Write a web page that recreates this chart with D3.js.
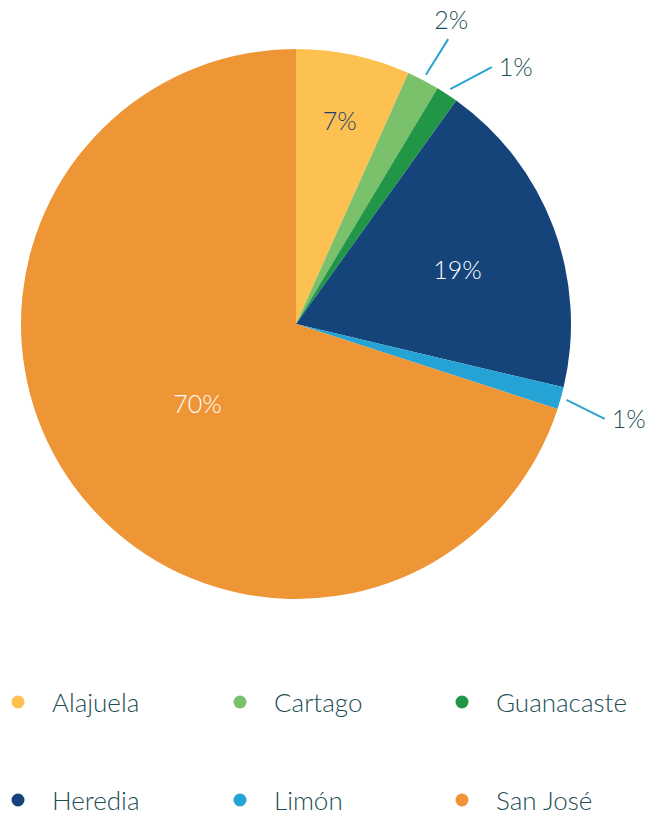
<!DOCTYPE html>
<html>
<head>
<meta charset="utf-8">
<script src="https://cdn.jsdelivr.net/npm/d3@7"></script>
<style>
  body { margin: 0; background: #fff; }
  text { font-family: Lato, "Open Sans", sans-serif; font-weight: 300; }
</style>
</head>
<body>
<svg id="chart" width="651" height="813"></svg>
<script>
// provinces and their share (%)
const provinces = ["Alajuela", "Cartago", "Guanacaste", "Heredia", "Limón", "San José"];
const shares = [6.7, 1.9, 1.3, 18.8, 1.3, 70.0];
const labels = ["7%", "2%", "1%", "19%", "1%", "70%"];
const colors = ["#fdc151", "#7bc16b", "#229647", "#144479", "#26a3d5", "#ee9535"];

const width = 651, height = 813;
const cx = 296, cy = 324, radius = 275;
const textColor = "#1e4d55";

const svg = d3.select("#chart");
const g = svg.append("g").attr("transform", `translate(${cx}, ${cy})`);

const data = provinces.map((p, i) => ({ name: p, value: shares[i], label: labels[i], color: colors[i] }));

const pie = d3.pie().sort(null).value(d => d.value);
const arcs = pie(data);
const arc = d3.arc().innerRadius(0).outerRadius(radius);

g.selectAll("path.slice")
  .data(arcs)
  .join("path")
  .attr("class", "slice")
  .attr("d", arc)
  .attr("fill", d => d.data.color);

// label placement: inside ones use a radius fraction, small slices get a leader line
const insideR = { "Alajuela": 0.76, "Heredia": 0.62, "San José": 0.46 };
const insideTurn = { "Alajuela": 0, "Heredia": 0.03, "San José": -0.05 };
const insideFill = { "Alajuela": "#1f3f6e", "Heredia": "#fff", "San José": "#fff" };
const leaderNudge = { "Cartago": 0.01, "Guanacaste": 0.07, "Limón": 0.025 };

const polar = (a, r) => [Math.sin(a) * r, -Math.cos(a) * r];

arcs.forEach(d => {
  const mid = (d.startAngle + d.endAngle) / 2;
  const name = d.data.name;
  if (insideR[name] !== undefined) {
    const [x, y] = polar(mid + insideTurn[name], radius * insideR[name]);
    g.append("text")
      .attr("x", x).attr("y", y)
      .attr("text-anchor", "middle")
      .attr("dominant-baseline", "central")
      .attr("font-size", 25)
      .attr("fill", insideFill[name])
      .text(d.data.label);
  } else {
    const a2 = mid + leaderNudge[name];
    const [x1, y1] = polar(mid, radius + 6);
    const [x2, y2] = polar(a2, radius + 48);
    g.append("line")
      .attr("x1", x1).attr("y1", y1)
      .attr("x2", x2).attr("y2", y2)
      .attr("stroke", "#2aa3d4")
      .attr("stroke-width", 2);
    const t = g.append("text")
      .attr("font-size", 25)
      .attr("fill", textColor)
      .attr("dominant-baseline", "central")
      .text(d.data.label);
    if (mid < 0.52) {
      t.attr("x", x2 + 3).attr("y", y2 - 20).attr("text-anchor", "middle");
    } else {
      t.attr("x", x2 + 7).attr("y", y2 - 1).attr("text-anchor", "start");
    }
  }
});

// legend: 3 columns x 2 rows
const colX = [18, 240, 462];
const rowY = [702, 800];
const legend = svg.append("g");
const items = legend.selectAll("g")
  .data(data)
  .join("g")
  .attr("transform", (d, i) => `translate(${colX[i % 3]}, ${rowY[Math.floor(i / 3)]})`);

items.append("circle")
  .attr("r", 6.5)
  .attr("fill", d => d.color);

items.append("text")
  .attr("x", 34)
  .attr("dominant-baseline", "central")
  .attr("font-size", 26)
  .attr("fill", textColor)
  .text(d => d.name);
</script>
</body>
</html>
